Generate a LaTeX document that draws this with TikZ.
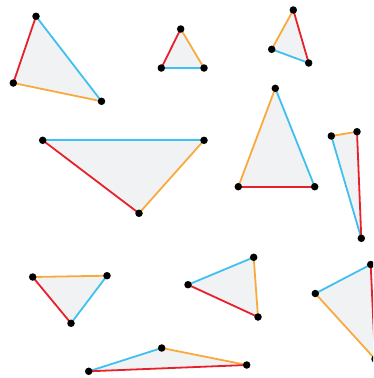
\documentclass[tikz,border=0pt]{standalone}
\definecolor{ered}{HTML}{E8202A}
\definecolor{eblue}{HTML}{3FC0F0}
\definecolor{eorange}{HTML}{F8AA3C}
\definecolor{tfill}{HTML}{F1F2F4}
\begin{document}
\begin{tikzpicture}[x=1pt,y=-1pt,
  dot/.style={circle,fill=black,inner sep=0pt,minimum size=7.5pt},
  edge/.style={line width=1.8pt},
  rd/.style={edge,draw=ered},
  bl/.style={edge,draw=eblue},
  og/.style={edge,draw=eorange},
  tri/.style={fill=tfill}]
\useasboundingbox (0,0) rectangle (373,378);
% vertices
\coordinate (a1) at (36,16.3); \coordinate (b1) at (13.3,83); \coordinate (c1) at (101.5,101.3);
\coordinate (a2) at (180.7,29); \coordinate (b2) at (161.3,68); \coordinate (c2) at (204,68);
\coordinate (a3) at (293.3,10); \coordinate (b3) at (271.7,49.3); \coordinate (c3) at (308.7,63);
\coordinate (a4) at (42.7,140.3); \coordinate (b4) at (204,140.3); \coordinate (c4) at (139,213.3);
\coordinate (a5) at (275.3,88.3); \coordinate (b5) at (238.3,186.7); \coordinate (c5) at (314.7,186.7);
\coordinate (a6) at (331.3,136); \coordinate (b6) at (357,131.7); \coordinate (c6) at (361.3,238.3);
\coordinate (a7) at (32.7,277); \coordinate (b7) at (107,275.7); \coordinate (c7) at (71,323.3);
\coordinate (a8) at (188,284.7); \coordinate (b8) at (253.7,257.3); \coordinate (c8) at (258,317);
\coordinate (a9) at (88.7,371.3); \coordinate (b9) at (161.7,348); \coordinate (c9) at (246.7,365);
\coordinate (a10) at (315.3,293.5); \coordinate (b10) at (370.7,264.5); \coordinate (c10) at (375,359);
\begin{scope}
\clip (0,0) rectangle (373,378);
% fills
\foreach \i in {1,...,10} \fill[tri] (a\i) -- (b\i) -- (c\i) -- cycle;
% edges
\draw[rd] (a1) -- (b1); \draw[bl] (a1) -- (c1); \draw[og] (b1) -- (c1);
\draw[rd] (a2) -- (b2); \draw[bl] (b2) -- (c2); \draw[og] (a2) -- (c2);
\draw[og] (a3) -- (b3); \draw[rd] (a3) -- (c3); \draw[bl] (b3) -- (c3);
\draw[bl] (a4) -- (b4); \draw[rd] (a4) -- (c4); \draw[og] (b4) -- (c4);
\draw[og] (a5) -- (b5); \draw[bl] (a5) -- (c5); \draw[rd] (b5) -- (c5);
\draw[og] (a6) -- (b6); \draw[bl] (a6) -- (c6); \draw[rd] (b6) -- (c6);
\draw[og] (a7) -- (b7); \draw[rd] (a7) -- (c7); \draw[bl] (b7) -- (c7);
\draw[bl] (a8) -- (b8); \draw[rd] (a8) -- (c8); \draw[og] (b8) -- (c8);
\draw[bl] (a9) -- (b9); \draw[og] (b9) -- (c9); \draw[rd] (a9) -- (c9);
\draw[bl] (a10) -- (b10); \draw[og] (a10) -- (c10); \draw[rd] (b10) -- (c10);
% dots
\foreach \i in {1,...,10} {
  \node[dot] (da\i) at (a\i) {};
  \node[dot] (db\i) at (b\i) {};
  \node[dot] (dc\i) at (c\i) {};
}
\end{scope}
\end{tikzpicture}
\end{document}
